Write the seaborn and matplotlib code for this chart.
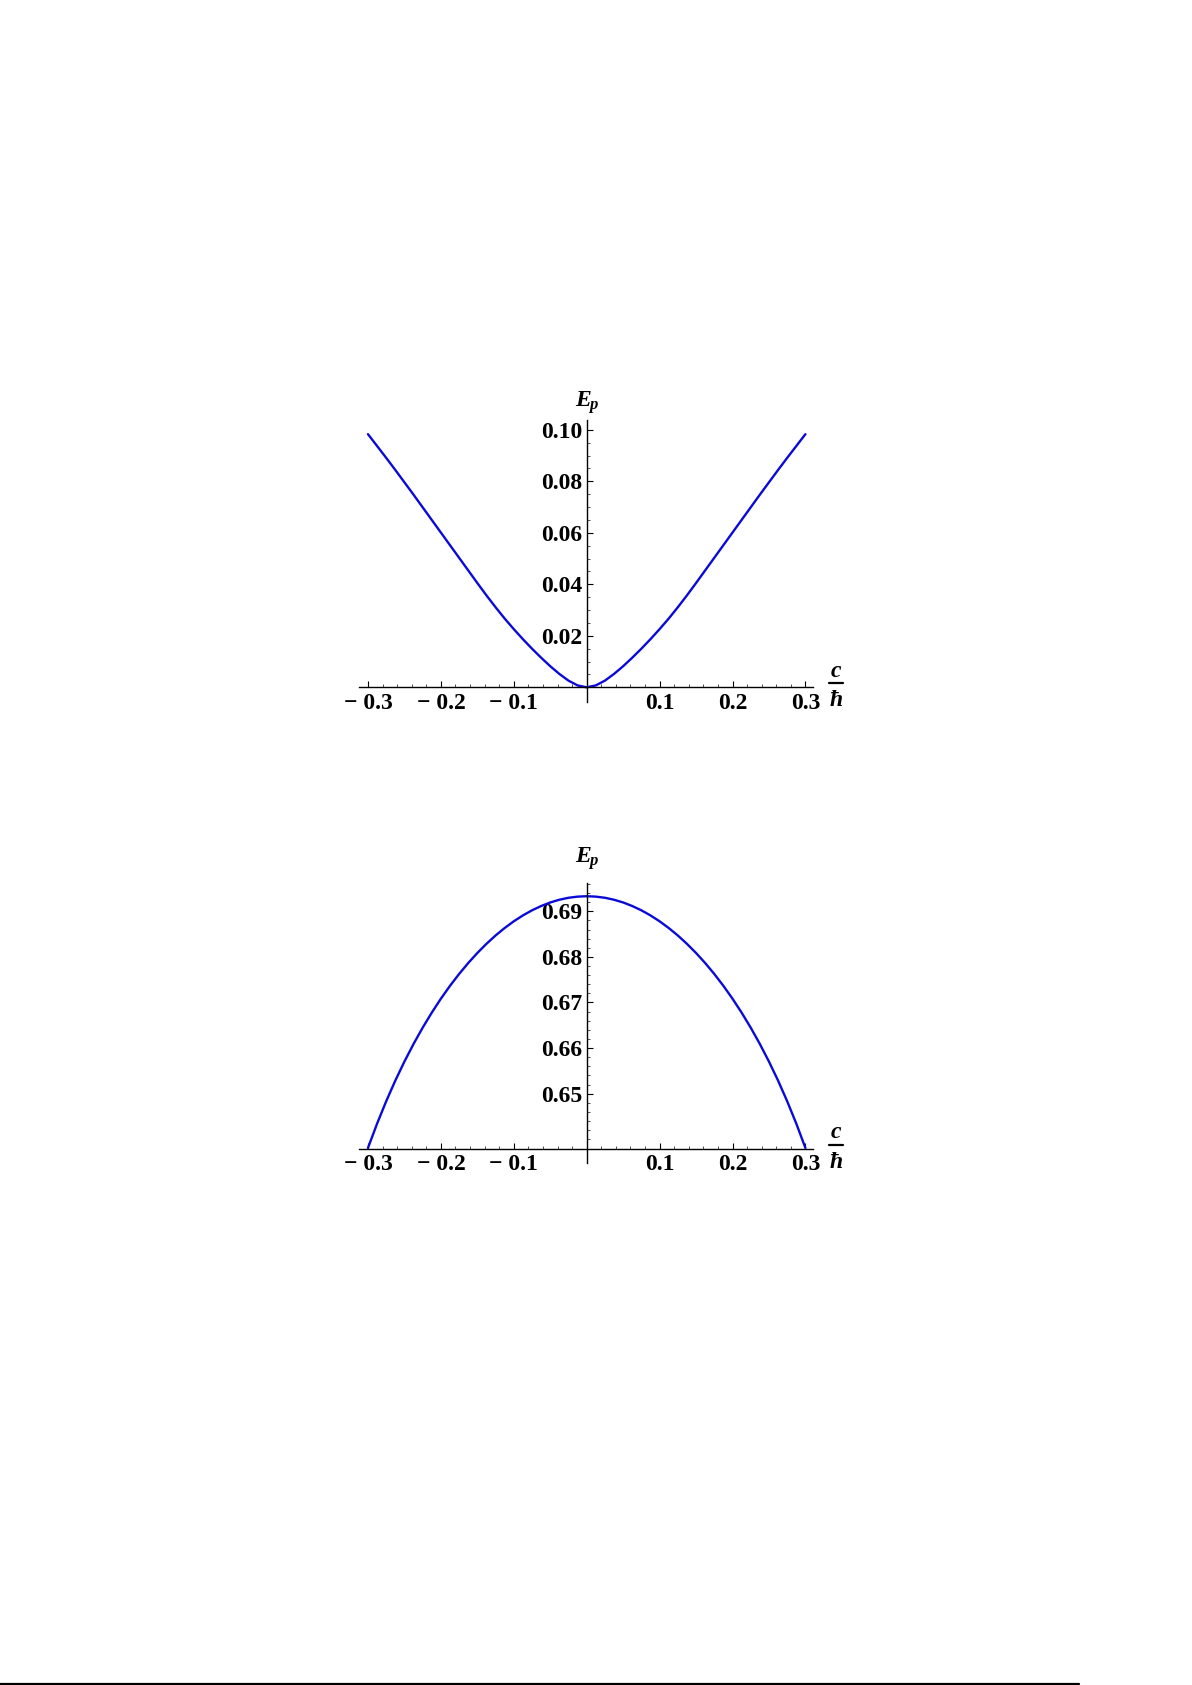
import numpy as np
import pandas as pd
import seaborn as sns
import matplotlib
matplotlib.use("Agg")
import matplotlib.pyplot as plt
from matplotlib.ticker import FixedLocator, FixedFormatter
from matplotlib.lines import Line2D

# ---- data ----
c_over_hbar = [-0.3, -0.2875, -0.275, -0.2625, -0.25, -0.2375, -0.225, -0.2125, -0.2, -0.1875,
               -0.175, -0.1625, -0.15, -0.1375, -0.125, -0.1125, -0.1, -0.0875, -0.075, -0.0625,
               -0.05, -0.0375, -0.025, -0.0125, 0.0,
               0.0125, 0.025, 0.0375, 0.05, 0.0625, 0.075, 0.0875, 0.1, 0.1125, 0.125,
               0.1375, 0.15, 0.1625, 0.175, 0.1875, 0.2, 0.2125, 0.225, 0.2375, 0.25,
               0.2625, 0.275, 0.2875, 0.3]
ep_top = [0.0983, 0.0937, 0.0891, 0.0844, 0.0796, 0.0748, 0.0699, 0.0650, 0.0601, 0.0552,
          0.0503, 0.0454, 0.0405, 0.0357, 0.0311, 0.0267, 0.0226, 0.0187, 0.0150, 0.0115,
          0.0082, 0.0052, 0.0026, 0.00075, 0.0,
          0.00075, 0.0026, 0.0052, 0.0082, 0.0115, 0.0150, 0.0187, 0.0226, 0.0267, 0.0311,
          0.0357, 0.0405, 0.0454, 0.0503, 0.0552, 0.0601, 0.0650, 0.0699, 0.0748, 0.0796,
          0.0844, 0.0891, 0.0937, 0.0983]
ep_bottom = [0.63810, 0.64343, 0.64834, 0.65287, 0.65704, 0.66090, 0.66447, 0.66777, 0.67083, 0.67365,
             0.67625, 0.67865, 0.68085, 0.68286, 0.68469, 0.68633, 0.68780, 0.68909, 0.69021, 0.69115,
             0.69193, 0.69253, 0.69296, 0.69321, 0.69330,
             0.69321, 0.69296, 0.69253, 0.69193, 0.69115, 0.69021, 0.68909, 0.68780, 0.68633, 0.68469,
             0.68286, 0.68085, 0.67865, 0.67625, 0.67365, 0.67083, 0.66777, 0.66447, 0.66090, 0.65704,
             0.65287, 0.64834, 0.64343, 0.63810]

x_ticks = [-0.3, -0.2, -0.1, 0.1, 0.2, 0.3]
x_ticklabels = ["\u2212 0.3", "\u2212 0.2", "\u2212 0.1", "0.1", "0.2", "0.3"]
top_yticks = [0.02, 0.04, 0.06, 0.08, 0.10]
top_yticklabels = ["0.02", "0.04", "0.06", "0.08", "0.10"]
bot_yticks = [0.65, 0.66, 0.67, 0.68, 0.69]
bot_yticklabels = ["0.65", "0.66", "0.67", "0.68", "0.69"]

sns.set_theme(style="white")
plt.rcParams['font.family'] = ['Liberation Serif', 'DejaVu Serif']

W, H = 1192, 1685
fig = plt.figure(figsize=(W / 100, H / 100), dpi=100)
fig.patch.set_facecolor('white')

def px_axes(x0, x1, ytop, ybot):
    return fig.add_axes([x0 / W, 1 - ybot / H, (x1 - x0) / W, (ybot - ytop) / H])

df_top = pd.DataFrame({"x": c_over_hbar, "y": ep_top})
df_bot = pd.DataFrame({"x": c_over_hbar, "y": ep_bottom})

XLIM = (-0.3123, 0.3104)
x_minor = np.round(np.arange(-0.30, 0.3001, 0.02), 4)

def style(ax, xorigin_y, ylim, yticks, ylabels, yminor):
    ax.set_facecolor('white')
    ax.set_xlim(*XLIM)
    ax.set_ylim(*ylim)
    for s in ['top', 'right']:
        ax.spines[s].set_visible(False)
    ax.spines['left'].set_position(('data', 0))
    ax.spines['bottom'].set_position(('data', xorigin_y))
    for s in ['left', 'bottom']:
        ax.spines[s].set_color('black')
        ax.spines[s].set_linewidth(1.0)
    ax.xaxis.set_major_locator(FixedLocator(x_ticks))
    ax.xaxis.set_major_formatter(FixedFormatter(x_ticklabels))
    ax.xaxis.set_minor_locator(FixedLocator(x_minor))
    ax.yaxis.set_major_locator(FixedLocator(yticks))
    ax.yaxis.set_major_formatter(FixedFormatter(ylabels))
    ax.yaxis.set_minor_locator(FixedLocator(yminor))
    ax.tick_params(axis='both', which='both', bottom=True, left=True, top=False, right=False)
    ax.tick_params(axis='both', which='major', direction='in', length=4.2, width=0.8,
                   color='black', labelsize=17, labelcolor='black')
    ax.tick_params(axis='both', which='minor', direction='in', length=2.4, width=0.6, color='#333333')
    ax.tick_params(axis='x', which='major', pad=4)
    ax.tick_params(axis='y', which='major', pad=3)
    for lab in ax.get_xticklabels() + ax.get_yticklabels():
        lab.set_fontweight('bold')
    ax.grid(False)
    ax.set_xlabel('')
    ax.set_ylabel('')

# top chart
ax1 = px_axes(359, 813, 420, 702)
sns.lineplot(data=df_top, x="x", y="y", ax=ax1, color='#0a0ad8', linewidth=1.7, sort=False)
style(ax1, 0.0, (-0.0057, 0.1038), top_yticks, top_yticklabels,
      np.round(np.arange(0.005, 0.1001, 0.005), 4))

# bottom chart
ax2 = px_axes(359, 813, 883, 1163)
sns.lineplot(data=df_bot, x="x", y="y", ax=ax2, color='#0a0ad8', linewidth=1.7, sort=False)
style(ax2, 0.6379, (0.6348, 0.6962), bot_yticks, bot_yticklabels,
      np.round(np.arange(0.640, 0.6961, 0.002), 4))

# axis labels (bold italic)
lab_kw = dict(fontweight='bold', fontstyle='italic', color='black')
for y_e, y_bar in [(400, 683), (856, 1145)]:
    fig.text(583 / W, 1 - y_e / H, 'E', ha='center', va='center', fontsize=17, **lab_kw)
    fig.text(593.5 / W, 1 - (y_e + 5) / H, 'p', ha='center', va='center', fontsize=12, **lab_kw)
    fig.text(836 / W, 1 - (y_bar - 12) / H, 'c', ha='center', va='center', fontsize=17, **lab_kw)
    fig.add_artist(Line2D([829 / W, 843 / W], [1 - y_bar / H, 1 - y_bar / H], color='black', linewidth=1.6))
    fig.text(836 / W, 1 - (y_bar + 17) / H, '\u0127', ha='center', va='center', fontsize=17, **lab_kw)

# page rule at the bottom
fig.add_artist(Line2D([0, 1079 / W], [1.0 / H, 1.0 / H], color='black', linewidth=1.6))

fig.savefig('out.png', dpi=100, facecolor='white')
